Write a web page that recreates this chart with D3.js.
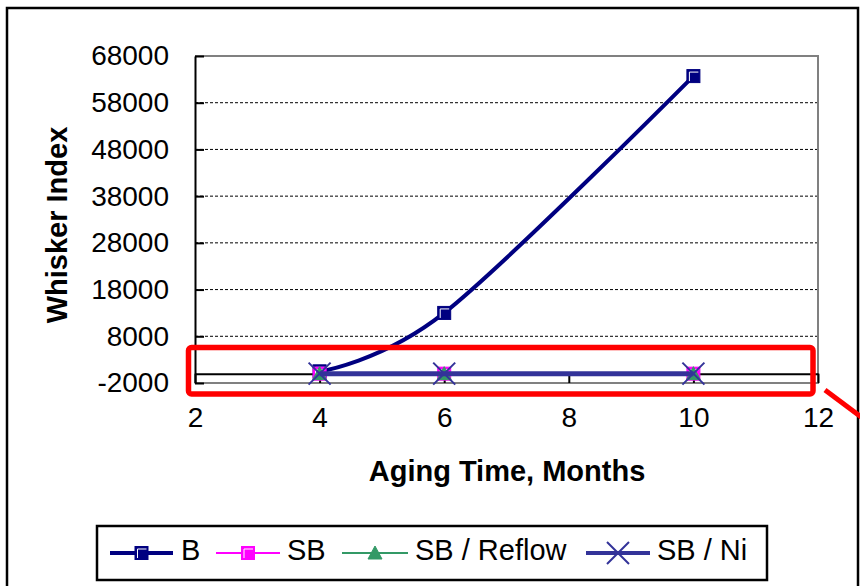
<!DOCTYPE html>
<html>
<head>
<meta charset="utf-8">
<script src="https://cdn.jsdelivr.net/npm/d3@7"></script>
<style>
  html, body { margin: 0; padding: 0; background: #fff; }
  svg { display: block; font-family: Arial, "Liberation Sans", sans-serif; }
</style>
</head>
<body>
<svg id="chart" width="860" height="586"></svg>
<script>
// Aging time (months) at which whiskers were measured
const months = [4, 6, 10];

// Whisker index per finish
const seriesNames = ["B", "SB", "SB / Reflow", "SB / Ni"];
const valuesB = [500, 13000, 63700];
const valuesSB = [0, 0, 0];
const valuesReflow = [0, 0, 0];
const valuesNi = [0, 0, 0];

// Axis ticks
const xTicks = [2, 4, 6, 8, 10, 12];
const yTicks = [-2000, 8000, 18000, 28000, 38000, 48000, 58000, 68000];

const svg = d3.select("#chart");

const plot = { left: 195, right: 818, top: 56, bottom: 383 };
const x = d3.scaleLinear().domain([2, 12]).range([plot.left, plot.right]);
const y = d3.scaleLinear().domain([-2000, 68000]).range([plot.bottom, plot.top]);

const styles = [
  { color: "#000080", width: 4, marker: "square" },
  { color: "#FF00FF", width: 2, marker: "square" },
  { color: "#339966", width: 2, marker: "triangle" },
  { color: "#333399", width: 5, marker: "cross" }
];
const allValues = [valuesB, valuesSB, valuesReflow, valuesNi];

// Plain number labels with an ASCII hyphen for negatives
const plain = d => String(d);

// Outer frame
svg.append("rect")
  .attr("x", 7).attr("y", 8).attr("width", 851).attr("height", 620)
  .attr("fill", "none").attr("stroke", "#000").attr("stroke-width", 2.5);

// Dashed gridlines
svg.append("g")
  .selectAll("line")
  .data(yTicks.filter(t => t !== -2000 && t !== 68000))
  .join("line")
  .attr("x1", plot.left).attr("x2", plot.right)
  .attr("y1", d => y(d)).attr("y2", d => y(d))
  .attr("stroke", "#000").attr("stroke-width", 1)
  .attr("stroke-dasharray", "3,2");

// Plot border (grey)
svg.append("path")
  .attr("d", `M${plot.left},${plot.top}H${plot.right}V${plot.bottom}H${plot.left}`)
  .attr("fill", "none").attr("stroke", "#808080").attr("stroke-width", 2);

// Y axis
const yAxis = svg.append("g")
  .attr("transform", `translate(${plot.left},0)`)
  .call(d3.axisLeft(y).tickValues(yTicks).tickSizeInner(-9).tickSizeOuter(0).tickPadding(26).tickFormat(plain));
yAxis.select(".domain").attr("stroke", "#000").attr("stroke-width", 2);
yAxis.selectAll(".tick line").attr("stroke", "#000").attr("stroke-width", 2);
yAxis.selectAll(".tick text")
  .attr("font-size", 28).attr("fill", "#000")
  .attr("font-family", "Arial, 'Liberation Sans', sans-serif");

// X axis, crossing at zero
const y0 = y(0);
const xAxis = svg.append("g")
  .attr("transform", `translate(0,${y0})`)
  .call(d3.axisBottom(x).tickValues(xTicks).tickSizeInner(plot.bottom - y0).tickSizeOuter(0).tickFormat(plain));
xAxis.select(".domain").attr("stroke", "#000").attr("stroke-width", 2);
xAxis.selectAll(".tick line").attr("stroke", "#000").attr("stroke-width", 2);
xAxis.selectAll(".tick text")
  .attr("font-size", 28).attr("fill", "#000")
  .attr("font-family", "Arial, 'Liberation Sans', sans-serif")
  .attr("y", 427 - y0).attr("dy", 0);

// Axis titles
svg.append("text")
  .attr("x", 507).attr("y", 481)
  .attr("text-anchor", "middle")
  .attr("font-size", 29).attr("font-weight", "bold")
  .text("Aging Time, Months");

svg.append("text")
  .attr("transform", "translate(67,225) rotate(-90)")
  .attr("text-anchor", "middle")
  .attr("font-size", 29).attr("font-weight", "bold")
  .text("Whisker Index");

// Marker drawing helpers
function drawMarker(g, kind, color, cx, cy) {
  if (kind === "square") {
    g.append("rect")
      .attr("x", cx - 6.5).attr("y", cy - 6.5).attr("width", 13).attr("height", 13)
      .attr("fill", color).attr("stroke", color).attr("stroke-width", 1);
    g.append("path")
      .attr("d", `M${cx - 4},${cy + 5}V${cy - 4}H${cx + 5}`)
      .attr("fill", "none").attr("stroke", "#fff").attr("stroke-width", 1);
  } else if (kind === "triangle") {
    g.append("path")
      .attr("d", `M${cx},${cy - 7}L${cx + 7},${cy + 6}L${cx - 7},${cy + 6}Z`)
      .attr("fill", color).attr("stroke", color).attr("stroke-width", 1);
  } else if (kind === "cross") {
    g.append("path")
      .attr("d", `M${cx - 11},${cy - 11}L${cx + 11},${cy + 11}M${cx - 11},${cy + 11}L${cx + 11},${cy - 11}`)
      .attr("fill", "none").attr("stroke", color).attr("stroke-width", 2);
  }
}

// Series lines and markers
const smooth = d3.line()
  .x(d => x(d[0]))
  .y(d => y(d[1]))
  .curve(d3.curveCatmullRom.alpha(0));

allValues.forEach((vals, i) => {
  const st = styles[i];
  const pts = months.map((m, j) => [m, vals[j]]);
  const g = svg.append("g");
  g.append("path")
    .attr("d", smooth(pts))
    .attr("fill", "none")
    .attr("stroke", st.color)
    .attr("stroke-width", st.width)
    .attr("stroke-linejoin", "round");
  pts.forEach(p => drawMarker(g, st.marker, st.color, x(p[0]), y(p[1])));
});

// Legend
const legend = svg.append("g");
legend.append("rect")
  .attr("x", 97).attr("y", 526).attr("width", 670).attr("height", 54)
  .attr("fill", "#fff").attr("stroke", "#000").attr("stroke-width", 2.5);

const legendItems = [
  { x0: 110, x1: 173, tx: 181 },
  { x0: 216, x1: 280, tx: 287 },
  { x0: 342, x1: 408, tx: 415 },
  { x0: 586, x1: 650, tx: 657 }
];
const ly = 553;
seriesNames.forEach((name, i) => {
  const st = styles[i];
  const it = legendItems[i];
  const g = legend.append("g");
  g.append("line")
    .attr("x1", it.x0).attr("x2", it.x1).attr("y1", ly).attr("y2", ly)
    .attr("stroke", st.color).attr("stroke-width", Math.min(st.width, 4));
  drawMarker(g, st.marker, st.color, (it.x0 + it.x1) / 2, ly);
  g.append("text")
    .attr("x", it.tx).attr("y", 560)
    .attr("font-size", 29).attr("fill", "#000")
    .text(name);
});

// Highlight around the near-zero series
svg.append("rect")
  .attr("x", 188.5).attr("y", 347.5).attr("width", 624.5).attr("height", 46.5)
  .attr("rx", 3).attr("ry", 3)
  .attr("fill", "none").attr("stroke", "#FF0000").attr("stroke-width", 5.5);

svg.append("line")
  .attr("x1", 825).attr("y1", 390).attr("x2", 880).attr("y2", 431)
  .attr("stroke", "#FF0000").attr("stroke-width", 5);
</script>
</body>
</html>
